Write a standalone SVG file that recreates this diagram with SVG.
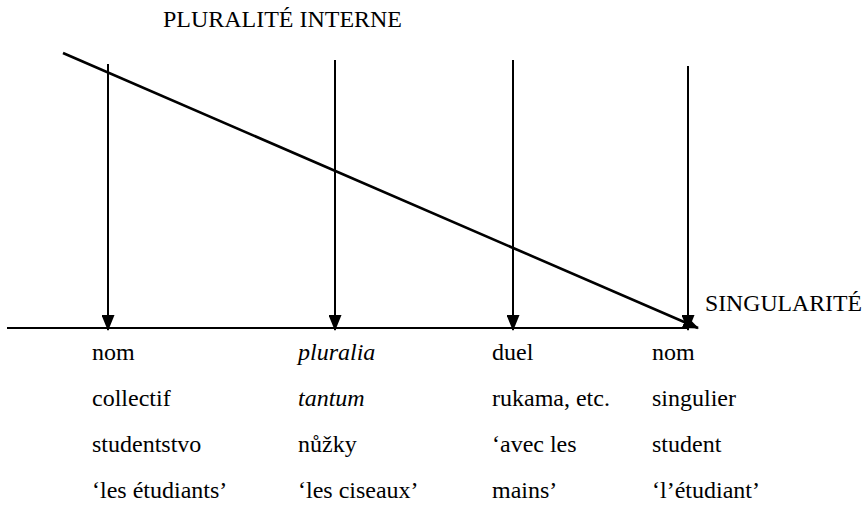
<svg xmlns="http://www.w3.org/2000/svg" width="866" height="505" viewBox="0 0 866 505">
<style>
.ln{stroke:#000;stroke-width:2;fill:none}
.dg{stroke:#000;stroke-width:2.6;fill:none}
text{font-family:'Liberation Serif','Times New Roman',serif;font-size:24px;fill:#000}
.it{font-style:italic}
</style>
<defs>
<marker id="ah" markerWidth="16" markerHeight="13" viewBox="0 0 16 13" refX="15" refY="6.5" orient="auto" markerUnits="userSpaceOnUse">
<path d="M0,0 L16,6.5 L0,13 Z" fill="#000"/>
</marker>
</defs>
<rect width="866" height="505" fill="#fff"/>
<g id="connectors">
<line class="ln" x1="7" y1="328" x2="688" y2="328"/>
<line class="dg" x1="63" y1="53" x2="698" y2="328" marker-end="url(#ah)"/>
<line class="ln" x1="108" y1="64" x2="108" y2="330" marker-end="url(#ah)"/>
<line class="ln" x1="335" y1="60" x2="335" y2="330" marker-end="url(#ah)"/>
<line class="ln" x1="513" y1="60" x2="513" y2="330" marker-end="url(#ah)"/>
<line class="ln" x1="688" y1="66" x2="688" y2="330" marker-end="url(#ah)"/>
</g>
<g id="title"><text x="163" y="27" textLength="239" lengthAdjust="spacingAndGlyphs">PLURALITÉ INTERNE</text></g>
<g id="singularite"><text x="705" y="311" textLength="157" lengthAdjust="spacingAndGlyphs">SINGULARITÉ</text></g>
<g id="col1">
<text x="92" y="360">nom</text>
<text x="92" y="406">collectif</text>
<text x="92" y="452">studentstvo</text>
<text x="92" y="498">‘les étudiants’</text>
</g>
<g id="col2">
<text class="it" x="298" y="360">pluralia</text>
<text class="it" x="298" y="406">tantum</text>
<text x="298" y="452">nůžky</text>
<text x="298" y="498">‘les ciseaux’</text>
</g>
<g id="col3">
<text x="492" y="360">duel</text>
<text x="492" y="406">rukama, etc.</text>
<text x="492" y="452">‘avec les</text>
<text x="492" y="498">mains’</text>
</g>
<g id="col4">
<text x="652" y="360">nom</text>
<text x="652" y="406">singulier</text>
<text x="652" y="452">student</text>
<text x="652" y="498">‘l’étudiant’</text>
</g>
</svg>
